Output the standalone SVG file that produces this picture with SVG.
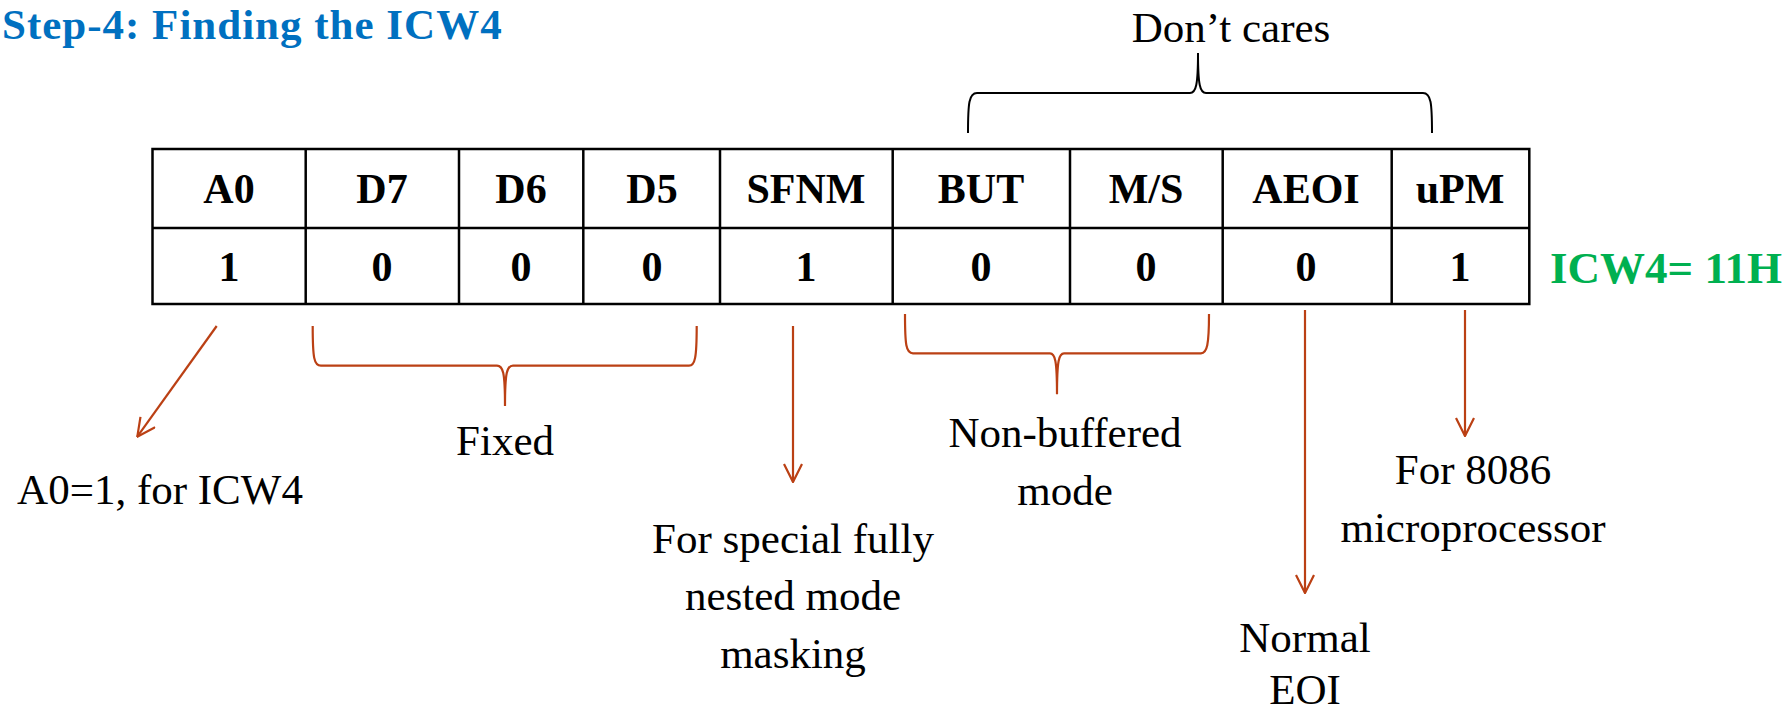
<svg xmlns="http://www.w3.org/2000/svg" width="1788" height="712" viewBox="0 0 1788 712">
<style>
.title{font-family:"Liberation Serif",serif;font-weight:bold;font-size:43px;letter-spacing:1px;fill:#0070C0}
.cell{font-family:"Liberation Serif",serif;font-weight:bold;font-size:42px;fill:#000;text-anchor:middle}
.lbl{font-family:"Liberation Serif",serif;font-size:43px;fill:#000;text-anchor:middle}
.res{font-family:"Liberation Serif",serif;font-weight:bold;font-size:45px;fill:#00B050}
.grid{stroke:#000;stroke-width:2.5;fill:none}
.red{stroke:#BB4014;stroke-width:2.2;fill:none}
.brace{stroke:#000;stroke-width:2;fill:none}
</style>
<defs>
<marker id="ah" viewBox="0 0 20 20" refX="19" refY="10" markerWidth="20" markerHeight="20" markerUnits="userSpaceOnUse" orient="auto">
<path d="M1,1 L19,10 L1,19" fill="none" stroke="#BB4014" stroke-width="2.2"/>
</marker>
</defs>
<text class="title" x="2" y="39">Step-4: Finding the ICW4</text>
<g id="table">
<rect class="grid" x="152.5" y="149" width="1376.8" height="155"/>
<line class="grid" x1="152.5" y1="228" x2="1529.3" y2="228"/>
<line class="grid" x1="305.7" y1="149" x2="305.7" y2="304"/>
<line class="grid" x1="459" y1="149" x2="459" y2="304"/>
<line class="grid" x1="583.3" y1="149" x2="583.3" y2="304"/>
<line class="grid" x1="720" y1="149" x2="720" y2="304"/>
<line class="grid" x1="892.7" y1="149" x2="892.7" y2="304"/>
<line class="grid" x1="1070" y1="149" x2="1070" y2="304"/>
<line class="grid" x1="1222.7" y1="149" x2="1222.7" y2="304"/>
<line class="grid" x1="1391.7" y1="149" x2="1391.7" y2="304"/>
</g>
<g id="bit-A0"><text class="cell" x="229" y="203">A0</text><text class="cell" x="229" y="281">1</text></g>
<g id="bit-D7"><text class="cell" x="382" y="203">D7</text><text class="cell" x="382" y="281">0</text></g>
<g id="bit-D6"><text class="cell" x="521" y="203">D6</text><text class="cell" x="521" y="281">0</text></g>
<g id="bit-D5"><text class="cell" x="652" y="203">D5</text><text class="cell" x="652" y="281">0</text></g>
<g id="bit-SFNM"><text class="cell" x="806" y="203">SFNM</text><text class="cell" x="806" y="281">1</text></g>
<g id="bit-BUT"><text class="cell" x="981" y="203">BUT</text><text class="cell" x="981" y="281">0</text></g>
<g id="bit-MS"><text class="cell" x="1146" y="203">M/S</text><text class="cell" x="1146" y="281">0</text></g>
<g id="bit-AEOI"><text class="cell" x="1306" y="203">AEOI</text><text class="cell" x="1306" y="281">0</text></g>
<g id="bit-uPM"><text class="cell" x="1460" y="203">uPM</text><text class="cell" x="1460" y="281">1</text></g>
<g id="result"><text class="res" x="1550" y="283">ICW4= 11H</text></g>
<g id="dont-cares">
<path class="brace" d="M968,133 C968,103 969,93 977,93 L1190,93 C1196,93 1198,85 1198,53 C1198,85 1200,93 1206,93 L1423,93 C1431,93 1432,103 1432,133"/>
<text class="lbl" x="1231" y="42">Don’t cares</text>
</g>
<g id="connectors">
<line class="red" x1="216.7" y1="326" x2="137.3" y2="436.7" marker-end="url(#ah)"/>
<path class="red" d="M312.7,326 C312.7,358 314,365.7 321,365.7 L497,365.7 C503,365.7 505,372 505,406 C505,372 507,365.7 513,365.7 L689,365.7 C695,365.7 696.7,358 696.7,326"/>
<line class="red" x1="793" y1="326" x2="793" y2="482" marker-end="url(#ah)"/>
<path class="red" d="M905,314 C905,345 906,353.3 913,353.3 L1050,353.3 C1055,353.3 1057,360 1057,394.3 C1057,360 1059,353.3 1064,353.3 L1201,353.3 C1207,353.3 1209,345 1209,314"/>
<line class="red" x1="1305" y1="310" x2="1305" y2="593" marker-end="url(#ah)"/>
<line class="red" x1="1465" y1="310" x2="1465" y2="436" marker-end="url(#ah)"/>
</g>
<g id="label-a0"><text class="lbl" x="160" y="504">A0=1, for ICW4</text></g>
<g id="label-fixed"><text class="lbl" x="505" y="455">Fixed</text></g>
<g id="label-sfnm"><text class="lbl" x="793" y="553">For special fully</text><text class="lbl" x="793" y="610">nested mode</text><text class="lbl" x="793" y="668">masking</text></g>
<g id="label-buf"><text class="lbl" x="1065" y="447">Non-buffered</text><text class="lbl" x="1065" y="505">mode</text></g>
<g id="label-eoi"><text class="lbl" x="1305" y="652">Normal</text><text class="lbl" x="1305" y="704">EOI</text></g>
<g id="label-upm"><text class="lbl" x="1473" y="484">For 8086</text><text class="lbl" x="1473" y="542">microprocessor</text></g>
</svg>
